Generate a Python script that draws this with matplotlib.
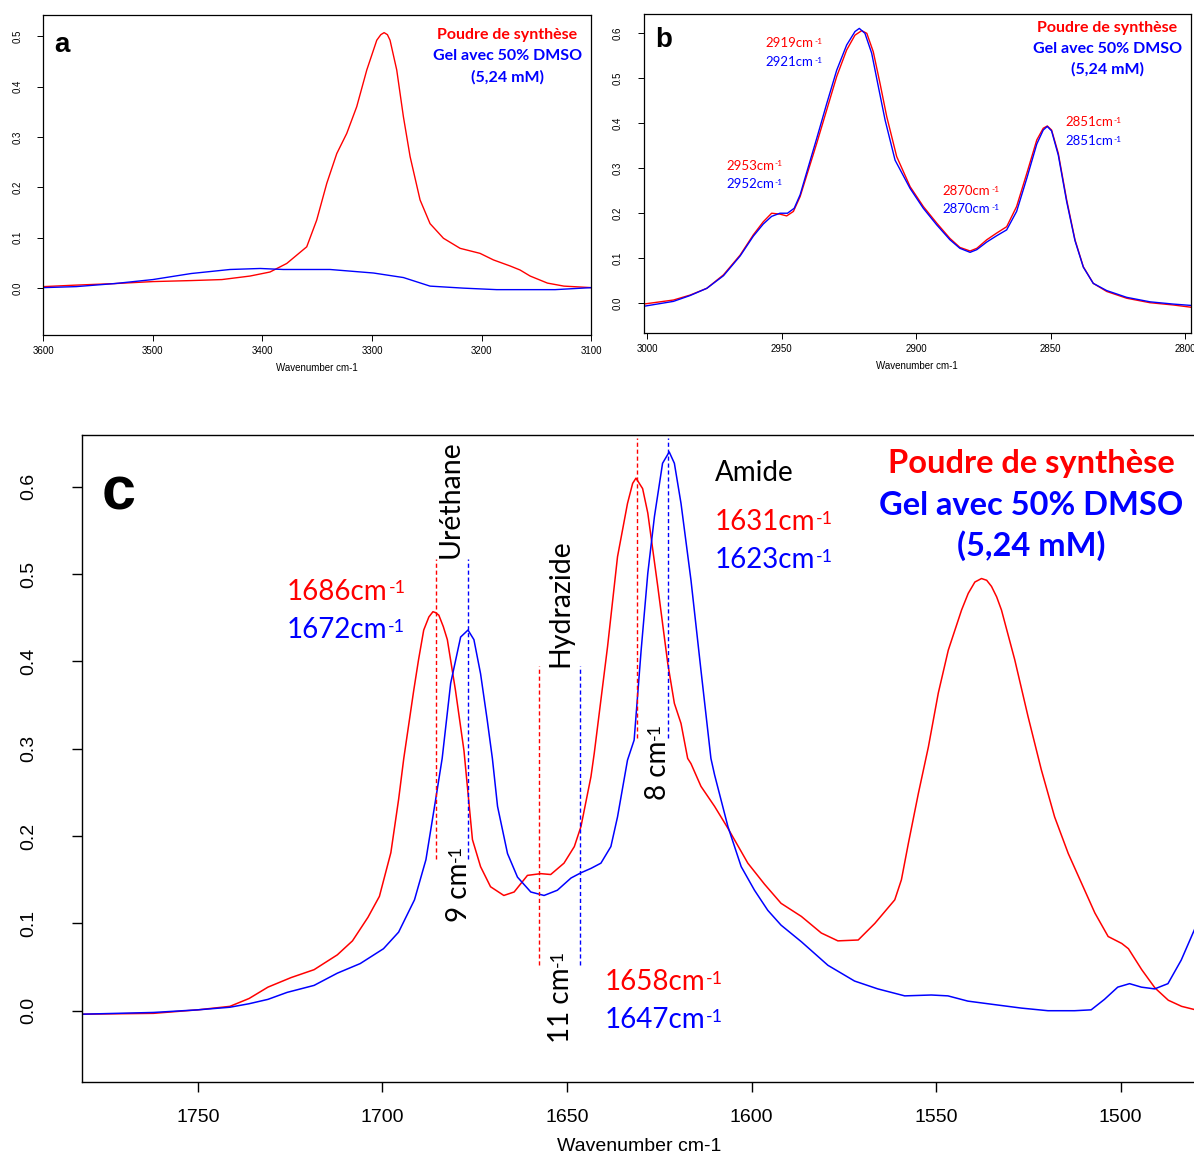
import numpy as np
import matplotlib
matplotlib.use("Agg")
import matplotlib.pyplot as plt

# ---- panel a : 3600-3100 cm-1 ----
a_red_wn = [3600, 3570, 3535, 3500, 3465, 3437, 3429.6, 3411.3, 3393.1, 3377.8, 3359.6, 3350.5,
            3341.3, 3332.2, 3323.1, 3314.0, 3304.8, 3295.7, 3292.0, 3289.0, 3286.0, 3283.6,
            3277.5, 3271.4, 3265.3, 3256.2, 3247.1, 3234.9, 3219.7, 3201.5, 3189.3, 3174.1,
            3165.0, 3155.8, 3140, 3125, 3100]
a_red_ab = [0.003, 0.006, 0.009, 0.013, 0.015, 0.017, 0.019, 0.024, 0.032, 0.049, 0.082, 0.135,
            0.208, 0.267, 0.307, 0.360, 0.433, 0.492, 0.503, 0.507, 0.503, 0.492,
            0.433, 0.340, 0.261, 0.175, 0.128, 0.099, 0.079, 0.069, 0.056, 0.044,
            0.036, 0.024, 0.010, 0.004, 0.001]
a_blue_wn = [3600, 3570, 3535, 3500, 3465, 3429.6, 3402, 3381, 3338.3, 3298.7, 3271.4, 3247.1,
             3216.7, 3186.3, 3155.8, 3133, 3100]
a_blue_ab = [0.001, 0.003, 0.009, 0.017, 0.029, 0.037, 0.039, 0.037, 0.037, 0.030, 0.021, 0.004,
             0.000, -0.003, -0.003, -0.003, 0.001]

# ---- panel b : 3000-2800 cm-1 ----
b_red_wn = [3001.4, 2990.3, 2984.1, 2977.9, 2971.7, 2965.5, 2960.6, 2956.9, 2953.8, 2950.7,
            2948.2, 2945.7, 2943.2, 2940.7, 2937.0, 2933.3, 2929.6, 2925.9, 2922.8, 2920.3,
            2918.4, 2916.0, 2913.5, 2911.0, 2907.3, 2902.3, 2897.4, 2892.4, 2887.5, 2883.8,
            2880.0, 2877.5, 2873.8, 2870.1, 2866.4, 2862.7, 2858.9, 2855.2, 2852.8, 2851.3,
            2849.7, 2847.2, 2844.1, 2841.0, 2837.9, 2834.2, 2829.2, 2821.8, 2813.1, 2804.5,
            2797.9]
b_red_ab = [-0.002, 0.007, 0.018, 0.033, 0.063, 0.107, 0.152, 0.181, 0.200, 0.198,
            0.194, 0.204, 0.237, 0.285, 0.356, 0.430, 0.504, 0.563, 0.596, 0.606,
            0.600, 0.559, 0.489, 0.415, 0.326, 0.259, 0.215, 0.178, 0.144, 0.124,
            0.116, 0.122, 0.141, 0.156, 0.170, 0.215, 0.289, 0.363, 0.389, 0.394,
            0.385, 0.333, 0.230, 0.141, 0.081, 0.044, 0.026, 0.011, 0.001, -0.004,
            -0.009]
b_blue_wn = [3001.4, 2990.3, 2984.1, 2977.9, 2971.7, 2965.5, 2960.6, 2956.9, 2953.8, 2950.7,
             2947.9, 2945.4, 2943.2, 2940.7, 2937.0, 2933.3, 2929.6, 2925.9, 2922.8, 2921.2,
             2919.1, 2916.6, 2914.1, 2911.6, 2907.9, 2902.3, 2897.4, 2892.4, 2887.5, 2883.8,
             2880.0, 2877.5, 2873.8, 2870.1, 2866.4, 2862.7, 2858.9, 2855.2, 2852.8, 2851.3,
             2849.7, 2847.2, 2844.1, 2841.0, 2837.9, 2834.2, 2829.2, 2821.8, 2813.1, 2804.5,
             2797.9]
b_blue_ab = [-0.007, 0.004, 0.017, 0.033, 0.061, 0.105, 0.149, 0.176, 0.193, 0.200,
             0.200, 0.211, 0.241, 0.292, 0.367, 0.444, 0.518, 0.574, 0.604, 0.611,
             0.600, 0.556, 0.481, 0.407, 0.318, 0.255, 0.211, 0.174, 0.141, 0.122,
             0.113, 0.119, 0.136, 0.150, 0.163, 0.204, 0.278, 0.354, 0.385, 0.393,
             0.383, 0.329, 0.226, 0.139, 0.080, 0.044, 0.028, 0.013, 0.003, -0.002,
             -0.005]

# ---- panel c : 1780-1480 cm-1 ----
c_red_wn = [1781.5, 1762, 1750, 1741.3, 1736.1, 1731, 1724.7, 1718.5, 1712.2, 1708.1, 1703.9,
            1700.8, 1697.7, 1695.6, 1694.2, 1691.5, 1690.2, 1688.8, 1687.4, 1686.3, 1685.6,
            1684.7, 1683.5, 1682.4, 1680.2, 1677.9, 1675.6, 1673.4, 1670.7, 1667.1, 1664.3,
            1660.7, 1657.1, 1654.4, 1650.8, 1648.0, 1646.2, 1643.5, 1642.6, 1639.0, 1636.3,
            1633.6, 1632.2, 1631.3, 1629.5, 1628.1, 1625.4, 1622.7, 1620.9, 1619.1, 1617.3,
            1616.4, 1613.7, 1610.0, 1606.4, 1601.0, 1596.5, 1592.0, 1586.5, 1581.1, 1576.6,
            1571.1, 1566.6, 1561.2, 1559.4, 1557.5, 1554.8, 1552.1, 1549.4, 1546.7, 1543.1,
            1541.3, 1539.5, 1537.7, 1536.3, 1535.0, 1533.6, 1532.3, 1528.7, 1525.1, 1521.5,
            1517.9, 1514.2, 1510.6, 1507.0, 1503.4, 1499.7, 1497.9, 1494.3, 1490.7, 1487.1,
            1483.5, 1479.7]
c_red_ab = [-0.004, -0.003, 0.001, 0.005, 0.014, 0.027, 0.038, 0.047, 0.064, 0.080, 0.107,
            0.131, 0.181, 0.242, 0.289, 0.367, 0.402, 0.436, 0.451, 0.457, 0.456,
            0.453, 0.440, 0.425, 0.367, 0.298, 0.196, 0.165, 0.142, 0.132, 0.136,
            0.155, 0.157, 0.156, 0.169, 0.188, 0.211, 0.268, 0.295, 0.417, 0.520,
            0.581, 0.604, 0.610, 0.598, 0.570, 0.486, 0.398, 0.352, 0.329, 0.289,
            0.283, 0.257, 0.234, 0.209, 0.169, 0.145, 0.123, 0.108, 0.089, 0.080,
            0.081, 0.100, 0.127, 0.150, 0.192, 0.249, 0.302, 0.364, 0.413, 0.459,
            0.478, 0.491, 0.495, 0.493, 0.486, 0.474, 0.459, 0.402, 0.337, 0.276,
            0.222, 0.180, 0.146, 0.112, 0.085, 0.077, 0.071, 0.047, 0.026, 0.012,
            0.005, 0.001]
c_blue_wn = [1781.5, 1762, 1750, 1741.3, 1736.1, 1731, 1725.8, 1718.5, 1712.2, 1706, 1699.7,
             1695.6, 1691.3, 1688.2, 1685.6, 1683.8, 1681.5, 1678.8, 1676.8, 1675.2, 1673.4,
             1671.6, 1670.2, 1668.8, 1666.1, 1663.4, 1659.8, 1656.2, 1652.6, 1648.9, 1646.2,
             1643.5, 1640.8, 1638.1, 1636.3, 1633.6, 1631.8, 1629.9, 1628.1, 1626.3, 1624.1,
             1622.3, 1620.9, 1619.1, 1616.4, 1613.7, 1611.0, 1610.0, 1606.4, 1602.8, 1599.2,
             1595.6, 1592.0, 1586.5, 1579.3, 1572.1, 1565.8, 1558.5, 1551.3, 1546.8, 1541.4,
             1534.2, 1526.9, 1519.7, 1512.5, 1508.0, 1504.4, 1500.8, 1497.6, 1494.4, 1490.8,
             1487.2, 1483.6, 1479.7]
c_blue_ab = [-0.004, -0.002, 0.001, 0.004, 0.008, 0.013, 0.021, 0.029, 0.043, 0.054, 0.071,
             0.090, 0.127, 0.173, 0.241, 0.289, 0.375, 0.428, 0.436, 0.425, 0.386,
             0.333, 0.289, 0.234, 0.180, 0.153, 0.136, 0.132, 0.138, 0.152, 0.158,
             0.163, 0.169, 0.188, 0.222, 0.287, 0.310, 0.413, 0.501, 0.566, 0.627,
             0.640, 0.627, 0.581, 0.493, 0.390, 0.289, 0.270, 0.211, 0.165, 0.138,
             0.115, 0.098, 0.079, 0.052, 0.034, 0.025, 0.017, 0.018, 0.017, 0.011,
             0.007, 0.003, 0.000, 0.000, 0.001, 0.013, 0.027, 0.031, 0.027, 0.025,
             0.031, 0.058, 0.096]

# band markers in panel c: (red position, blue position, y bottom, y top)
band_red = [1685.5, 1657.5, 1631.0]
band_blue = [1676.8, 1646.5, 1622.5]
band_ylo = [0.174, 0.052, 0.312]
band_yhi = [0.517, 0.395, 0.656]

b_peak_red = [2919, 2953, 2870, 2851]
b_peak_blue = [2921, 2952, 2870, 2851]

RED, BLUE = "#ff0000", "#0000ff"
ARIAL = "Liberation Sans"
CAL = "Lato"


def cm_text(ax, x, y, base, color="black", fs=20, rotation=0, ha="left", va="center"):
    """base text followed by a small raised '-1' (plain hyphen, as in the original)"""
    t = ax.text(x, y, base, color=color, fontsize=fs, family=CAL, rotation=rotation,
                ha=ha, va=va)
    if rotation == 0:
        ax.annotate("-1", xy=(1.0, 0.93), xycoords=t, xytext=(0.5, 0),
                    textcoords="offset points", color=color, fontsize=fs * 0.64,
                    family=CAL, ha="left", va="top")
    else:
        ax.annotate("-1", xy=(0.07, 1.0), xycoords=t, xytext=(0, 0.5),
                    textcoords="offset points", color=color, fontsize=fs * 0.64,
                    family=CAL, rotation=90, ha="left", va="bottom")
    return t


def legend(ax, x, ys, size):
    ax.text(x, ys[0], "Poudre de synthèse", color=RED, fontsize=size, fontweight="bold",
            family=CAL, ha="center", va="center")
    ax.text(x, ys[1], "Gel avec 50% DMSO", color=BLUE, fontsize=size, fontweight="bold",
            family=CAL, ha="center", va="center")
    ax.text(x, ys[2], "(5,24 mM)", color=BLUE, fontsize=size, fontweight="bold",
            family=CAL, ha="center", va="center")


def small_axes(ax, xlim, ylim, xticks, yticks):
    ax.set_xlim(*xlim)
    ax.set_ylim(*ylim)
    ax.set_xticks(xticks)
    ax.set_yticks(yticks)
    ax.set_yticklabels([f"{v:.1f}" for v in yticks], rotation=90, va="center")
    ax.tick_params(labelsize=7, length=4, width=0.7, direction="out")
    ax.tick_params(axis="x", pad=4)
    ax.tick_params(axis="y", pad=11)
    for lab in ax.get_xticklabels() + ax.get_yticklabels():
        lab.set_family(ARIAL)
    for s in ax.spines.values():
        s.set_linewidth(0.9)
    ax.set_xlabel("Wavenumber cm-1", fontsize=7, family=ARIAL, labelpad=5)


W, H = 1194, 1156
fig = plt.figure(figsize=(W / 100, H / 100), dpi=100)

# panel a
ax = fig.add_axes([43.2 / W, 1 - 335 / H, 548.1 / W, 320 / H])
ax.plot(a_red_wn, a_red_ab, color=RED, lw=1.0)
ax.plot(a_blue_wn, a_blue_ab, color=BLUE, lw=1.0)
small_axes(ax, (3600, 3100), (-0.093, 0.542), [3600, 3500, 3400, 3300, 3200, 3100],
           [0.0, 0.1, 0.2, 0.3, 0.4, 0.5])
ax.text(3589.5, 0.482, "a", fontsize=20, fontweight="bold", family=ARIAL, va="center", ha="left")
legend(ax, 3176.5, [0.502, 0.461, 0.419], 11.5)

# panel b
ax = fig.add_axes([643.6 / W, 1 - 333.3 / H, 547.3 / W, 319.3 / H])
ax.plot(b_red_wn, b_red_ab, color=RED, lw=1.0)
ax.plot(b_blue_wn, b_blue_ab, color=BLUE, lw=1.0)
small_axes(ax, (3001.4, 2797.9), (-0.067, 0.643), [3000, 2950, 2900, 2850, 2800],
           [0.0, 0.1, 0.2, 0.3, 0.4, 0.5, 0.6])
ax.text(2997, 0.585, "b", fontsize=20, fontweight="bold", family=ARIAL, va="center", ha="left")
legend(ax, 2828.9, [0.611, 0.565, 0.520], 11.5)
b_lab_x = [2956.0, 2970.7, 2890.2, 2844.6]
b_lab_y = [(0.578, 0.537), (0.306, 0.264), (0.250, 0.210), (0.402, 0.361)]
for xr, pr, pb, (yr, yb) in zip(b_lab_x, b_peak_red, b_peak_blue, b_lab_y):
    cm_text(ax, xr, yr, f"{pr}cm", color=RED, fs=9.5)
    cm_text(ax, xr, yb, f"{pb}cm", color=BLUE, fs=9.5)

# panel c
ax = fig.add_axes([81.5 / W, 1 - 1081.7 / H, (W - 81.5 + 2) / W, 646.7 / H])
ax.plot(c_red_wn, c_red_ab, color=RED, lw=1.1)
ax.plot(c_blue_wn, c_blue_ab, color=BLUE, lw=1.1)
for xr, xb, lo, hi in zip(band_red, band_blue, band_ylo, band_yhi):
    ax.plot([xr, xr], [lo, hi], color=RED, lw=1.0, ls=(0, (3, 2)))
    ax.plot([xb, xb], [lo, hi], color=BLUE, lw=1.0, ls=(0, (3, 2)))
ax.set_xlim(1781.5, 1479.6)
ax.set_ylim(-0.0813, 0.6594)
ax.set_xticks([1750, 1700, 1650, 1600, 1550, 1500])
ax.set_yticks([0.0, 0.1, 0.2, 0.3, 0.4, 0.5, 0.6])
ax.set_yticklabels(["0.0", "0.1", "0.2", "0.3", "0.4", "0.5", "0.6"], rotation=90, va="center")
ax.tick_params(labelsize=14, length=7.5, width=1.0, direction="out")
ax.tick_params(axis="x", pad=12)
ax.tick_params(axis="y", pad=24)
for lab in ax.get_xticklabels() + ax.get_yticklabels():
    lab.set_family(ARIAL)
ax.spines["right"].set_visible(False)
for s in ax.spines.values():
    s.set_linewidth(1.0)
ax.set_xlabel("Wavenumber cm-1", fontsize=14, family=ARIAL, labelpad=9)

ax.text(1776.1, 0.592, "c", fontsize=44, fontweight="bold", family=ARIAL, va="center", ha="left")
legend(ax, 1524.3, [0.627, 0.579, 0.533], 23.5)

fs = 20
ax.text(1681.6, 0.518, "Uréthane", rotation=90, fontsize=20.5, family=CAL, ha="center", va="bottom")
ax.text(1651.9, 0.394, "Hydrazide", rotation=90, fontsize=20.5, family=CAL, ha="center", va="bottom")
ax.text(1610.0, 0.616, "Amide", fontsize=fs, family=CAL, ha="left", va="center")
cm_text(ax, 1725.8, 0.480, "1686cm", color=RED, fs=fs)
cm_text(ax, 1725.8, 0.436, "1672cm", color=BLUE, fs=fs)
cm_text(ax, 1610.0, 0.560, "1631cm", color=RED, fs=fs)
cm_text(ax, 1610.0, 0.516, "1623cm", color=BLUE, fs=fs)
cm_text(ax, 1639.7, 0.033, "1658cm", color=RED, fs=fs)
cm_text(ax, 1639.7, -0.011, "1647cm", color=BLUE, fs=fs)
cm_text(ax, 1679.3, 0.102, "9 cm", fs=fs, rotation=90, ha="center", va="bottom")
cm_text(ax, 1651.7, -0.037, "11 cm", fs=fs, rotation=90, ha="center", va="bottom")
cm_text(ax, 1625.4, 0.241, "8 cm", fs=fs, rotation=90, ha="center", va="bottom")

fig.savefig("out.png", dpi=100)
